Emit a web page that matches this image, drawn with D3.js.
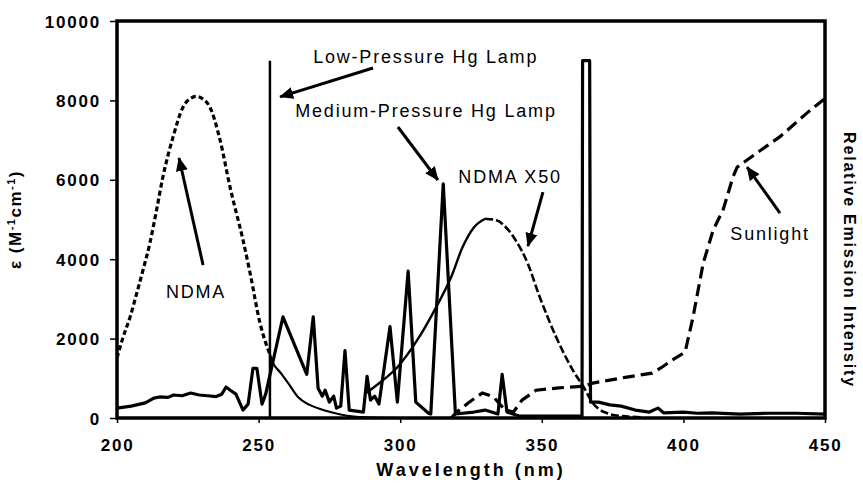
<!DOCTYPE html>
<html lang="en">
<head>
    <meta charset="UTF-8" />
    <title>NDMA absorbance and lamp spectra</title>
    <script src="https://cdn.jsdelivr.net/npm/d3@7"></script>
    <style>
        body { margin: 0; background: #fff; }
        text { font-family: "Liberation Sans", Arial, sans-serif; fill: #000; }
    </style>
</head>
<body>
    <div id="my_dataviz"></div>

    <script>
        // ---- data (wavelength nm, value) ----
        const ndma = [[200, 1510], [202, 2000], [204.6, 2540], [207, 3150], [209.2, 3730], [211.6, 4400], [214, 5250], [216.2, 6070],
            [219.8, 7080], [223.3, 7830], [226, 8050], [228, 8100], [230, 8050], [232.8, 7830], [236.4, 7000], [239.9, 5820],
            [244.5, 4480], [247, 3650], [250.5, 2390], [253, 1790], [254, 1600]];

        // tail of the NDMA curve beyond the low-pressure line (drawn thin)
        const ndmaTail = [[254, 1600], [255.1, 1390], [258, 1120], [261, 820], [264, 520],
            [268, 330], [272, 220], [276, 140], [282, 50], [290, 10], [300, 0]];

        const ndmaX50 = [[288, 630], [293, 900], [299, 1280], [306, 1960], [312, 2700], [318, 3550], [322, 4300], [326, 4800],
            [330, 5020], [334, 4980], [338, 4750], [341, 4450], [345, 3900], [349, 3100], [355, 2050], [361, 1200],
            [365, 750], [368, 380], [372, 150], [378, 50], [385, 20]];

        const mpLamp = [[200, 250], [205, 300], [210, 380], [213, 500], [215, 530], [218, 520], [220, 580], [223, 560],
            [226, 630], [229, 580], [232, 560], [235, 540], [237, 600], [238.5, 780], [240, 700], [242, 600], [244.5, 200],
            [246.3, 350], [248, 1250], [249.4, 1250], [251.2, 350], [252.5, 600], [258.6, 2550], [267, 1100], [269.3, 2550],
            [271, 750], [272.5, 550], [273.5, 700], [275, 400], [276.5, 550], [277.5, 250], [279, 300], [280.5, 1700],
            [282, 200], [287, 150], [288.3, 1050], [289.5, 450], [291, 550], [292.5, 350], [296.4, 2300], [299, 400],
            [302.8, 3700], [305.5, 400], [310, 120], [310.8, 100], [315.2, 5900], [319.5, 100], [326, 150], [330, 200],
            [334.5, 100], [336, 1100], [337.7, 150], [342, 50], [355, 50], [364.2, 50], [364.4, 9000], [366.9, 9000],
            [367.2, 400], [370, 400], [374, 330], [378, 300], [383, 200], [388, 150], [391, 250], [393, 130], [400, 150],
            [405, 120], [410, 130], [420, 100], [430, 120], [440, 120], [450, 100]];

        const lpLamp = [[254, 0], [254, 9000]];

        const sunlight = [[318, 0], [320, 150], [324, 380], [329, 630], [333, 530], [337, 200], [340, 150], [343, 450],
            [348, 700], [356, 760], [365, 800], [368, 880], [380, 1030], [389, 1130], [392, 1260], [396, 1460], [400.6, 1660],
            [403.4, 2540], [407, 3900], [410.5, 4730], [414, 5240], [417.5, 6070], [419, 6320], [426, 6680], [434, 7080],
            [443.6, 7680], [450, 8050]];

        const xTicks = [200, 250, 300, 350, 400, 450];
        const yTicks = [0, 2000, 4000, 6000, 8000, 10000];

        // annotation labels and arrows (in data units)
        const labels = [
            { text: "Low-Pressure Hg Lamp", at: [309, 8940], from: [290.4, 8815], to: [257.6, 8090] },
            { text: "Medium-Pressure Hg Lamp", at: [309.1, 7580], from: [299.2, 7330], to: [313.3, 5995] },
            { text: "NDMA X50", at: [338.8, 5920], from: [350.4, 5690], to: [345.1, 4330] },
            { text: "NDMA", at: [227.9, 3020], from: [230.4, 3850], to: [221.9, 6550] },
            { text: "Sunlight", at: [430.6, 4480], from: [434.1, 5160], to: [422.5, 6320] }
        ];

        // set the dimensions and margins of the graph
        const margin = { top: 21, right: 38, bottom: 65, left: 117 },
            width = 863 - margin.left - margin.right,
            height = 483 - margin.top - margin.bottom;

        const root = d3.select("#my_dataviz")
            .append("svg")
            .attr("width", 863)
            .attr("height", 483);

        const defs = root.append("defs");
        defs.append("marker")
            .attr("id", "head")
            .attr("markerUnits", "userSpaceOnUse")
            .attr("viewBox", "0 0 14 12")
            .attr("refX", 13)
            .attr("refY", 6)
            .attr("markerWidth", 14)
            .attr("markerHeight", 12)
            .attr("orient", "auto")
            .append("path")
            .attr("d", "M0,0 L14,6 L0,12 Z")
            .attr("fill", "#000");

        const svg = root.append("g")
            .attr("transform", `translate(${margin.left},${margin.top})`);

        const x = d3.scaleLinear().domain([200, 450]).range([0, width]);
        const y = d3.scaleLinear().domain([0, 10000]).range([height, 0]);

        // axes
        const xAxis = svg.append("g")
            .attr("transform", `translate(0, ${height})`)
            .call(d3.axisBottom(x).tickValues(xTicks).tickFormat(d3.format("d")).tickSize(5).tickPadding(16));
        const yAxis = svg.append("g")
            .call(d3.axisLeft(y).tickValues(yTicks).tickFormat(d3.format("d")).tickSize(7).tickPadding(9));

        [xAxis, yAxis].forEach(a => {
            a.select(".domain").remove();
            a.selectAll("line").attr("stroke", "#000").attr("stroke-width", 1.5);
            a.selectAll("text")
                .style("font-size", "17px")
                .style("font-weight", "bold")
                .style("letter-spacing", "1.8px")
                .attr("fill", "#000");
        });
        yAxis.selectAll("text").attr("dy", "0.36em");

        // lines
        const line = d3.line().x(d => x(d[0])).y(d => y(d[1]));
        const smooth = d3.line().x(d => x(d[0])).y(d => y(d[1])).curve(d3.curveMonotoneX);

        svg.append("path").datum(ndma)
            .attr("d", smooth).attr("fill", "none").attr("stroke", "#000")
            .attr("stroke-width", 3.2).attr("stroke-dasharray", "5,3");

        svg.append("path").datum(ndmaTail)
            .attr("d", smooth).attr("fill", "none").attr("stroke", "#000")
            .attr("stroke-width", 2.2);

        // NDMA X50: rising side looks solid, falling side dashed
        svg.append("path").datum(ndmaX50.filter(d => d[0] <= 330))
            .attr("d", smooth).attr("fill", "none").attr("stroke", "#000")
            .attr("stroke-width", 2.4);
        svg.append("path").datum(ndmaX50.filter(d => d[0] >= 330))
            .attr("d", smooth).attr("fill", "none").attr("stroke", "#000")
            .attr("stroke-width", 2.6).attr("stroke-dasharray", "8,3");

        svg.append("path").datum(sunlight)
            .attr("d", line).attr("fill", "none").attr("stroke", "#000")
            .attr("stroke-width", 3.2).attr("stroke-dasharray", "12,6");

        svg.append("path").datum(lpLamp)
            .attr("d", line).attr("fill", "none").attr("stroke", "#000")
            .attr("stroke-width", 2.5);

        svg.append("path").datum(mpLamp)
            .attr("d", line).attr("fill", "none").attr("stroke", "#000")
            .attr("stroke-width", 3.2).attr("stroke-linejoin", "round");

        // frame
        svg.append("rect")
            .attr("width", width).attr("height", height)
            .attr("fill", "none").attr("stroke", "#000").attr("stroke-width", 3.5);

        // annotations
        const ann = svg.append("g");
        ann.selectAll("line")
            .data(labels)
            .join("line")
            .attr("x1", d => x(d.from[0])).attr("y1", d => y(d.from[1]))
            .attr("x2", d => x(d.to[0])).attr("y2", d => y(d.to[1]))
            .attr("stroke", "#000").attr("stroke-width", 3)
            .attr("marker-end", "url(#head)");
        ann.selectAll("text")
            .data(labels)
            .join("text")
            .attr("x", d => x(d.at[0])).attr("y", d => y(d.at[1]))
            .attr("text-anchor", "middle")
            .style("font-size", "18px")
            .style("letter-spacing", "1.8px")
            .text(d => d.text);

        // axis titles
        svg.append("text")
            .attr("x", width / 2).attr("y", height + 58)
            .attr("text-anchor", "middle")
            .style("font-size", "18px").style("font-weight", "bold").style("letter-spacing", "3px")
            .text("Wavelength (nm)");

        const yt = svg.append("text")
            .attr("transform", `translate(${-96}, ${height / 2}) rotate(-90)`)
            .attr("text-anchor", "middle")
            .style("font-size", "17px").style("font-weight", "bold").style("letter-spacing", "1.5px");
        yt.append("tspan").text("ε (M");
        yt.append("tspan").attr("dy", "-6").style("font-size", "11px").text("-1");
        yt.append("tspan").attr("dy", "6").text("cm");
        yt.append("tspan").attr("dy", "-6").style("font-size", "11px").text("-1");
        yt.append("tspan").attr("dy", "6").text(")");

        svg.append("text")
            .attr("transform", `translate(${width + 19}, ${239}) rotate(90)`)
            .attr("text-anchor", "middle")
            .style("font-size", "16px").style("font-weight", "bold").style("letter-spacing", "1.8px")
            .text("Relative Emission Intensity");
    </script>
</body>
</html>
